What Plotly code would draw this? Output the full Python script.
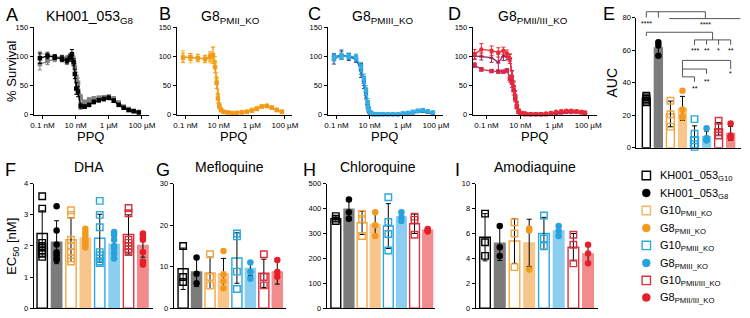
import plotly.graph_objects as go

W, H = 750, 318

# ---------------- PPQ dose-response data (panels A-D) ----------------
doses_nM = [0.07, 0.2, 0.55, 1.5, 3.0, 4.5, 6.0, 7.5, 9.0, 11, 14, 20, 35, 65, 125,
            250, 500, 1000, 2000, 4000, 8000, 16000, 32000, 65000]
doses_D_nM = [0.02, 0.05, 0.2, 0.5, 1.0, 1.6, 2.4, 3.2, 4.0, 5.0, 6.2, 8.0, 10, 14, 20,
              40, 80, 160, 320, 640, 1280, 2560, 5120, 10240, 20480, 40960, 65000]

A_black = [97, 101, 99, 96, 92, 98, 104, 90, 70, 45, 40, 15, 14, 17, 22, 25, 27, 29, 24, 17, 12, 8, 6, 4]
A_black_sd = [9, 5, 4, 5, 5, 6, 8, 6, 8, 10, 9, 5, 3, 3, 3, 3, 3, 3, 3, 2, 2, 2, 1, 1]
A_grey = [87, 92, 96, 97, 96, 97, 98, 93, 80, 65, 55, 30, 22, 26, 28, 29, 30, 31, 28, 21, 14, 10, 7, 5]
A_grey_sd = [10, 6, 5, 5, 5, 5, 6, 6, 8, 8, 8, 5, 3, 3, 3, 3, 3, 3, 3, 2, 2, 2, 1, 1]
A_lgrey = [105, 104, 100, 99, 98, 99, 100, 97, 85, 60, 45, 25, 17, 22, 26, 28, 30, 31, 26, 19, 13, 9, 6, 4]
A_lgrey_sd = [4, 4, 3, 3, 3, 3, 4, 4, 6, 6, 6, 4, 2, 2, 2, 2, 2, 2, 2, 2, 1, 1, 1, 1]

B_orange = [98, 99, 97, 96, 100, 102, 82, 55, 28, 15, 8, 5, 4, 3, 3, 4, 5, 7, 10, 14, 15, 12, 8, 5]
B_orange_sd = [8, 6, 6, 6, 8, 14, 10, 10, 8, 5, 3, 2, 1, 1, 1, 1, 1, 1, 2, 2, 2, 2, 2, 1]
B_yellow = [100, 97, 98, 95, 97, 104, 90, 62, 35, 16, 9, 5, 4, 3, 4, 5, 6, 9, 12, 15, 16, 13, 9, 6]
B_yellow_sd = [10, 8, 6, 6, 8, 12, 10, 10, 8, 5, 3, 2, 1, 1, 1, 1, 1, 1, 2, 2, 2, 2, 2, 1]

C_light = [98, 100, 101, 99, 82, 62, 42, 22, 10, 4, 2, 1, 1, 1, 1, 1, 1, 2, 3, 5, 7, 8, 6, 4]
C_light_sd = [6, 5, 5, 5, 8, 8, 8, 6, 4, 2, 1, 1, 1, 1, 1, 1, 1, 1, 1, 1, 2, 2, 1, 1]
C_blue = [100, 102, 100, 97, 78, 58, 38, 18, 8, 3, 1, 1, 1, 1, 1, 1, 1, 2, 3, 4, 6, 7, 5, 3]
C_blue_sd = [5, 6, 5, 5, 8, 8, 8, 6, 4, 2, 1, 1, 1, 1, 1, 1, 1, 1, 1, 1, 2, 2, 1, 1]
C_navy = [95, 103, 99, 96, 76, 55, 35, 16, 7, 3, 1, 1, 1, 1, 1, 1, 1, 1, 2, 3, 5, 6, 4, 3]
C_navy_sd = [8, 8, 6, 6, 12, 10, 8, 6, 4, 2, 1, 1, 1, 1, 1, 1, 1, 1, 1, 1, 1, 1, 1, 1]

D_red = [104, 112, 110, 107, 110, 105, 96, 65, 48, 32, 16, 6, 3, 2, 2, 1, 1, 1, 2, 3, 5, 6, 7, 7, 6, 5, 4]
D_red_sd = [8, 10, 8, 8, 6, 6, 8, 10, 8, 8, 5, 3, 2, 1, 1, 1, 1, 1, 1, 1, 1, 2, 2, 2, 2, 1, 1]
D_maroon = [101, 100, 98, 90, 101, 100, 98, 68, 50, 35, 18, 7, 3, 2, 2, 1, 1, 1, 1, 2, 3, 4, 5, 6, 5, 4, 3]
D_maroon_sd = [6, 6, 8, 14, 8, 6, 6, 8, 8, 6, 5, 3, 1, 1, 1, 1, 1, 1, 1, 1, 1, 1, 1, 1, 1, 1, 1]
D_crimson = [85, 78, 75, 74, 74, 76, 62, 55, 42, 28, 14, 5, 3, 2, 1, 1, 1, 1, 1, 2, 3, 4, 5, 5, 5, 4, 3]
D_crimson_sd = [4, 3, 2, 2, 2, 3, 6, 8, 8, 6, 4, 2, 1, 1, 1, 1, 1, 1, 1, 1, 1, 1, 1, 1, 1, 1, 1]

ppq_tick_vals = [0.1, 10, 1000, 100000]
ppq_tick_text = ["0.1 nM", "10 nM", "1 µM", "100 µM"]
survival_ticks = [0, 50, 100, 150]

# ---------------- Bar panels (E-I) ----------------
lines_names = ["KH001_053<sub>G10</sub>", "KH001_053<sub>G8</sub>", "G10<sub>PMII_KO</sub>",
               "G8<sub>PMII_KO</sub>", "G10<sub>PMIII_KO</sub>", "G8<sub>PMIII_KO</sub>",
               "G10<sub>PMII/III_KO</sub>", "G8<sub>PMII/III_KO</sub>"]

E_auc_mean = [30.5, 61.4, 20.8, 24.2, 6.7, 6.9, 11.7, 8.85]
E_auc_sd = [1.5, 4.5, 7.9, 7.4, 6.8, 3.4, 3.9, 4.3]
E_auc_pts = [[32, 31, 30, 29, 28], [64.9, 62.9, 56.5], [28.9, 20.6, 13], [35, 23.5, 19.6, 18.6],
             [17.6, 8.6, 4.6, 2.2, 0.6], [12, 6, 5, 4.5], [16.6, 13, 9.6, 7.6], [15, 7.6, 6.6, 6.2]]

F_dha_mean = [2.40, 2.12, 2.20, 2.25, 2.25, 2.05, 2.37, 2.02]
F_dha_sd = [0.73, 0.69, 0.70, 0.30, 0.77, 0.30, 0.63, 0.38]
F_dha_pts = [[3.6, 3.2, 2.1, 2.0, 1.95, 1.85, 1.75, 1.65], [3.28, 2.5, 2.05, 1.8, 1.7, 1.6, 1.55],
             [3.15, 3.0, 2.2, 2.0, 1.8, 1.6, 1.5], [2.55, 2.45, 2.35, 2.25, 2.15, 2.05, 1.95],
             [3.45, 3.0, 2.6, 1.8, 1.7, 1.6, 1.5, 1.45], [2.45, 2.35, 2.2, 2.0, 1.9, 1.75, 1.6],
             [3.22, 3.05, 2.2, 2.1, 2.0, 1.9, 1.8], [2.4, 2.35, 2.25, 2.2, 1.8, 1.5, 1.4]]

G_mef_mean = [9.5, 8.7, 8.5, 8.3, 12.1, 9.6, 8.4, 8.7]
G_mef_sd = [5.0, 3.5, 3.8, 3.7, 6.1, 1.8, 3.4, 2.9]
G_mef_pts = [[15, 7.5, 6.3], [12.2, 8.3, 6.0], [13, 7.5, 5.5], [13.8, 8.2, 6.5, 4.8],
             [18, 17.3, 8.8, 4.6], [11, 8.8, 7.1], [13, 7.5, 5.5], [11.6, 8.7, 7.6]]

H_cq_mean = [360, 398, 343, 336, 330, 367, 339, 313]
H_cq_sd = [10, 40, 47, 48, 90, 18, 39, 5]
H_cq_pts = [[370, 360, 350], [437, 385, 359], [379, 359, 290], [385, 333, 290],
            [446, 346, 298, 232], [385, 365, 350], [368, 355, 295], [318, 312, 308]]

I_aq_mean = [5.7, 5.23, 5.4, 5.25, 6.0, 6.2, 4.9, 4.35]
I_aq_sd = [1.9, 1.4, 1.8, 1.9, 1.3, 0.4, 1.1, 0.75]
I_aq_pts = [[7.6, 5.3, 4.2], [6.6, 4.9, 4.2], [6.9, 6.0, 3.3], [6.4, 6.25, 3.1],
            [7.45, 5.6, 5.0], [6.6, 6.2, 5.8], [5.9, 5.1, 3.6], [5.1, 4.4, 3.6]]

# significance brackets for E (bar index, AUC value) and labels
E_brackets = [
    [(0, 80), (0, 83.6), (4.9, 83.6), (4.9, 79.4)],
    [(1, 80), (1, 83.6)],
    [(1.9, 79.4), (7.8, 79.4)],
    [(0, 68.7), (0, 71), (5.5, 71), (5.5, 66.3)],
    [(4, 63.3), (4, 66.3), (7, 66.3), (7, 63.3)],
    [(5, 66.3), (5, 63.3)],
    [(6, 66.3), (6, 63.3)],
    [(3, 43.6), (3, 53.7), (7, 53.7), (7, 48.4)],
    [(3, 48.4), (5, 48.4), (5, 45.4)],
    [(3, 43.6), (4, 43.6), (4, 40.6)],
]
E_stars = [(0, 76.6, "****"), (4.9, 75.6, "****"), (4, 60.0, "***"), (5, 60.0, "**"),
           (6, 60.0, "*"), (7, 60.0, "**"), (7, 45.6, "*"), (5, 41.0, "**"), (4, 36.2, "**")]

# ---------------- styles ----------------
FONT = "Liberation Sans, Arial, sans-serif"
bar_fill = ["white", "#7b7b7b", "white", "#F8C68A", "white", "#8CCEF0", "white", "#F28C8C"]
bar_line = ["black", "#7b7b7b", "#F2A641", "#F8C68A", "#2AA8E0", "#8CCEF0", "#D9323F", "#F28C8C"]
pt_color = ["black", "black", "#F2A641", "#F39A1E", "#2AA8E0", "#27A2DE", "#D9323F", "#E61E28"]
pt_symbol = ["square-open", "circle", "square-open", "circle", "square-open", "circle", "square-open", "circle"]
legend_color = ["black", "black", "#F2B868", "#F39A1E", "#2AA8E0", "#27A2DE", "#D9323F", "#E61E28"]


def px(x):
    return x / W


def py(y):
    return 1 - y / H


fig = go.Figure()
layout = dict(width=W, height=H, margin=dict(l=0, r=0, t=0, b=0), paper_bgcolor="white",
              plot_bgcolor="rgba(0,0,0,0)", showlegend=False, font=dict(family=FONT, color="black"))

axis_base = dict(showline=True, linecolor="black", linewidth=1, ticks="outside", ticklen=3,
                 tickwidth=1, tickcolor="black", showgrid=False, zeroline=False,
                 showticklabels=True, ticklabeloverflow="allow", layer="above traces",
                 tickfont=dict(size=7.5, family=FONT, color="black"), fixedrange=True)

annotations = []


def set_axes(n, xdom, ydom, xcfg, ycfg):
    s = "" if n == 1 else str(n)
    xa = dict(axis_base)
    xa.update(domain=[px(xdom[0]), px(xdom[1])], anchor="y" + s)
    xa.update(xcfg)
    ya = dict(axis_base)
    ya.update(domain=[py(ydom[1]), py(ydom[0])], anchor="x" + s)
    ya.update(ycfg)
    layout["xaxis" + s] = xa
    layout["yaxis" + s] = ya
    return "x" + s, "y" + s


# ---------------- Row 1: dose-response ----------------
row1_y = (24, 114)
ppq_x = dict(type="log", tickmode="array", tickvals=ppq_tick_vals, ticktext=ppq_tick_text,
             tickfont=dict(size=8, family=FONT, color="black"))
surv_y = dict(type="linear", range=[0, 150], tickmode="array", tickvals=survival_ticks,
              ticktext=[str(v) for v in survival_ticks])

panelsA = [
    (1, (31, 148), [-1.536, 5.43], doses_nM,
     [(A_lgrey, A_lgrey_sd, "#b8b8b8", "circle"), (A_grey, A_grey_sd, "#808080", "square"),
      (A_black, A_black_sd, "#000000", "square")]),
    (2, (176, 293), [-1.536, 5.43], doses_nM,
     [(B_yellow, B_yellow_sd, "#F5C634", "circle"), (B_orange, B_orange_sd, "#F39A1E", "square")]),
    (3, (329, 446), [-1.536, 5.43], doses_nM,
     [(C_navy, C_navy_sd, "#3A3F96", "triangle-up"), (C_blue, C_blue_sd, "#1B78C0", "circle"),
      (C_light, C_light_sd, "#34AEE4", "square")]),
    (4, (476, 602), [-1.814, 5.52], doses_D_nM,
     [(D_crimson, D_crimson_sd, "#D6294E", "square"), (D_maroon, D_maroon_sd, "#9B2055", "triangle-up"),
      (D_red, D_red_sd, "#EE2A36", "circle")]),
]
for n, xdom, xr, xs, series in panelsA:
    xcfg = dict(ppq_x)
    xcfg["range"] = xr
    xref, yref = set_axes(n, xdom, row1_y, xcfg, dict(surv_y))
    for vals, sds, col, sym in series:
        fig.add_trace(go.Scatter(
            x=xs, y=vals, mode="lines+markers", xaxis=xref, yaxis=yref, cliponaxis=False,
            line=dict(color=col, width=1.3),
            marker=dict(color=col, size=4.5, symbol=sym),
            error_y=dict(type="data", array=sds, color=col, thickness=1, width=2)))

# ---------------- Bar panels ----------------
row2_y = (185, 313)
bar_panels = [
    (5, (642, 748), (14, 148), [-0.82, 7.86], E_auc_mean, E_auc_sd, E_auc_pts, [0, 20, 40, 60, 80], 0.66),
    (6, (31, 152), row2_y, [-0.6, 7.7], F_dha_mean, F_dha_sd, F_dha_pts, [0, 1, 2, 3, 4], 0.72),
    (7, (173, 287), row2_y, [-0.7, 7.66], G_mef_mean, G_mef_sd, G_mef_pts, [0, 10, 20, 30], 0.75),
    (8, (328, 438), row2_y, [-0.7, 7.57], H_cq_mean, H_cq_sd, H_cq_pts, [0, 100, 200, 300, 400, 500], 0.75),
    (9, (479, 603), row2_y, [-0.64, 7.67], I_aq_mean, I_aq_sd, I_aq_pts, [0, 2, 4, 6, 8, 10], 0.72),
]
cats = list(range(8))
for n, xdom, ydom, xr, means, sds, pts, yt, bw in bar_panels:
    xcfg = dict(range=xr, ticks="", showticklabels=False)
    ycfg = dict(range=[yt[0], yt[-1]], tickmode="array", tickvals=yt, ticktext=[str(v) for v in yt])
    xref, yref = set_axes(n, xdom, ydom, xcfg, ycfg)
    fig.add_trace(go.Bar(
        x=cats, y=means, width=bw, xaxis=xref, yaxis=yref,
        marker=dict(color=bar_fill, line=dict(color=bar_line, width=1.4)),
        error_y=dict(type="data", array=sds, color="black", thickness=1, width=2.5)))
    xs, ys, cs, ss, lw = [], [], [], [], []
    for i, grp in enumerate(pts):
        for v in grp:
            xs.append(i)
            ys.append(v)
            cs.append(pt_color[i])
            ss.append(pt_symbol[i])
            lw.append(1.4 if pt_symbol[i].endswith("open") else 0)
    fig.add_trace(go.Scatter(
        x=xs, y=ys, mode="markers", xaxis=xref, yaxis=yref, cliponaxis=False,
        marker=dict(color=cs, symbol=ss, size=6.5, line=dict(width=lw, color=cs))))

# ---------------- E brackets ----------------
Ex = layout["xaxis5"]
Ey = layout["yaxis5"]


def e_paper(i, v):
    xr, xd = Ex["range"], Ex["domain"]
    yr, yd = Ey["range"], Ey["domain"]
    return (xd[0] + (i - xr[0]) / (xr[1] - xr[0]) * (xd[1] - xd[0]),
            yd[0] + (v - yr[0]) / (yr[1] - yr[0]) * (yd[1] - yd[0]))


shapes = []
for br in E_brackets:
    p = [e_paper(i, v) for i, v in br]
    path = "M %f %f " % p[0] + " ".join("L %f %f" % q for q in p[1:])
    shapes.append(dict(type="path", xref="paper", yref="paper", path=path,
                       line=dict(color="#555555", width=1)))
for i, v, t in E_stars:
    xx, yy = e_paper(i, v)
    annotations.append(dict(x=xx, y=yy, xref="paper", yref="paper", text=t, showarrow=False,
                            font=dict(size=7, family=FONT, color="black"),
                            xanchor="center", yanchor="middle"))

# ---------------- Text ----------------
def ann(x, y, text, size, xanchor="center", angle=0):
    annotations.append(dict(x=px(x), y=py(y), xref="paper", yref="paper", text=text, showarrow=False,
                            font=dict(size=size, family=FONT, color="black"), xanchor=xanchor,
                            yanchor="middle", textangle=angle))


panel_letters = [("A", 9, 11), ("B", 164, 10), ("C", 316, 10), ("D", 458, 10), ("E", 614, 10),
                 ("F", 8, 171), ("G", 162, 171), ("H", 311, 171), ("I", 461, 171)]
for t, x, y in panel_letters:
    ann(x, y, t, 18)

titles = [("KH001_053<sub>G8</sub>", 88, 13), ("G8<sub>PMII_KO</sub>", 231, 13),
          ("G8<sub>PMIII_KO</sub>", 385, 13), ("G8<sub>PMII/III_KO</sub>", 537, 13),
          ("DHA", 87, 168), ("Mefloquine", 230, 168), ("Chloroquine", 380, 168),
          ("Amodiaquine", 539, 168)]
for t, x, y in titles:
    ann(x, y, t, 14)

for x in (89, 234, 387, 539):
    ann(x, 136, "PPQ", 13)
ann(8, 69, "% Survival", 13, angle=-90)
ann(10, 249, "EC<sub>50</sub> [nM]", 13, angle=-90)
ann(617, 81, "AUC", 14, angle=-90)

# ---------------- Legend (glyph shapes + text) ----------------
legend_y = [176.5, 194.5, 212.5, 230.5, 248.5, 266.5, 284.5, 302.0]
for i, name in enumerate(lines_names):
    yy = py(legend_y[i])
    if pt_symbol[i].endswith("open"):
        shapes.append(dict(type="rect", xref="paper", yref="paper", xsizemode="pixel",
                           ysizemode="pixel", xanchor=px(652), yanchor=yy, x0=-4.2, x1=4.2,
                           y0=-4.2, y1=4.2, line=dict(color=legend_color[i], width=1.4),
                           fillcolor="white"))
    else:
        shapes.append(dict(type="circle", xref="paper", yref="paper", xsizemode="pixel",
                           ysizemode="pixel", xanchor=px(652), yanchor=yy, x0=-4, x1=4,
                           y0=-4, y1=4, line=dict(color=legend_color[i], width=0.5),
                           fillcolor=legend_color[i]))
    ann(664, legend_y[i] + 1, name, 11, xanchor="left")

layout["shapes"] = shapes
layout["annotations"] = annotations
fig.update_layout(**layout)
fig.write_html("out.html",
               config={"displayModeBar": False, "staticPlot": True},
               post_script="document.body.style.margin='0';document.body.style.padding='0';"
                           "document.documentElement.style.overflow='hidden';")
